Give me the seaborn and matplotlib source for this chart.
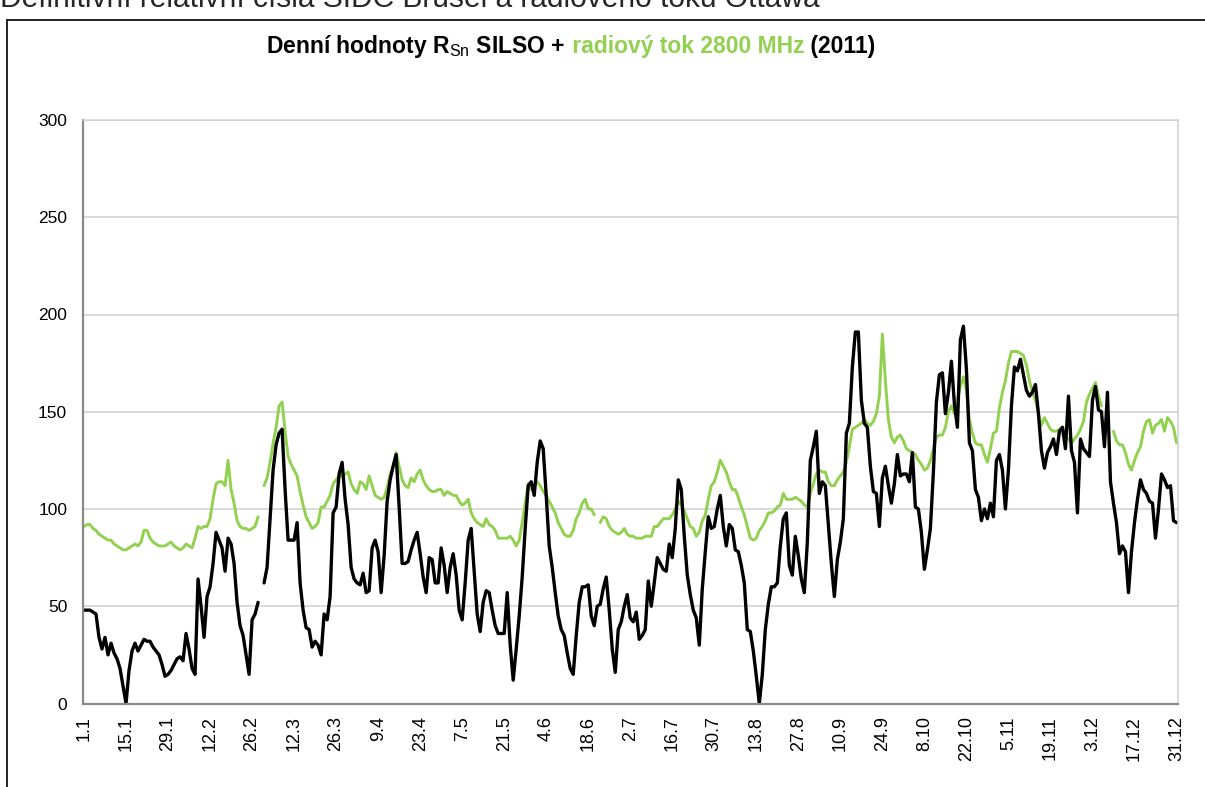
import matplotlib.pyplot as plt
from matplotlib.lines import Line2D
import seaborn as sns
import pandas as pd
import numpy as np

# daily values for 2011, 14 days per row (None = no value)
sunspot_n = [
    48, 48, 48, 47, 46, 34, 28, 34, 25, 31, 26, 23, 18, 9,
    0, 17, 27, 31, 27, 30, 33, 32, 32, 29, 27, 25, 20, 14,
    15, 17, 20, 23, 24, 22, 36, 28, 18, 15, 64, 50, 34, 55,
    60, 72, 88, 84, 80, 68, 85, 82, 72, 52, 40, 35, 25, 15,
    43, 46, 52, None, 62, 70, 95, 120, 133, 139, 141, 110, 84, 84,
    84, 93, 62, 48, 39, 38, 29, 32, 30, 25, 46, 43, 55, 98,
    101, 118, 124, 105, 92, 70, 64, 62, 61, 67, 57, 58, 80, 84,
    78, 57, 76, 104, 115, 122, 128, 101, 72, 72, 73, 79, 84, 88,
    77, 65, 57, 75, 74, 62, 62, 80, 71, 57, 70, 77, 66, 48,
    43, 62, 84, 90, 68, 46, 37, 52, 58, 57, 48, 40, 36, 36,
    36, 57, 30, 12, 28, 45, 65, 90, 112, 114, 107, 124, 135, 131,
    107, 81, 70, 57, 45, 38, 35, 26, 18, 15, 35, 52, 60, 60,
    61, 45, 40, 50, 51, 59, 65, 48, 28, 16, 38, 42, 50, 56,
    44, 42, 47, 33, 35, 38, 63, 50, 62, 75, 72, 69, 68, 82,
    75, 90, 115, 110, 86, 66, 56, 48, 44, 30, 59, 78, 96, 90,
    91, 100, 107, 91, 81, 92, 90, 79, 78, 71, 62, 38, 37, 27,
    14, 0, 15, 38, 51, 60, 60, 62, 81, 95, 98, 71, 66, 86,
    76, 64, 57, 83, 125, 132, 140, 108, 114, 112, 92, 72, 55, 74,
    83, 95, 139, 144, 173, 191, 191, 156, 144, 142, 122, 109, 108, 91,
    116, 122, 112, 103, 113, 128, 117, 118, 118, 114, 129, 101, 100, 88,
    69, 79, 90, 119, 155, 169, 170, 149, 160, 176, 154, 142, 187, 194,
    172, 134, 130, 110, 106, 94, 100, 95, 103, 96, 125, 128, 120, 100,
    120, 153, 173, 171, 177, 169, 161, 158, 160, 164, 149, 130, 121, 129,
    132, 136, 128, 140, 142, 131, 158, 130, 124, 98, 136, 131, 129, 127,
    156, 163, 151, 150, 132, 160, 114, 103, 93, 77, 81, 78, 57, 78,
    93, 105, 115, 110, 108, 104, 103, 85, 100, 118, 115, 111, 112, 94,
    93,
]

flux_2800 = [
    91, 92, 92, 90, 89, 87, 86, 85, 84, 84, 82, 81, 80, 79,
    79, 80, 81, 82, 81, 83, 89, 89, 85, 83, 82, 81, 81, 81,
    82, 83, 81, 80, 79, 80, 82, 81, 80, 85, 91, 90, 91, 91,
    95, 105, 113, 114, 114, 112, 125, 110, 103, 94, 91, 90, 90, 89,
    90, 91, 96, None, 112, 116, 124, 134, 142, 153, 155, 140, 127, 123,
    120, 117, 109, 102, 96, 93, 90, 91, 93, 101, 101, 104, 107, 113,
    115, 117, 117, 118, 119, 113, 110, 108, 114, 113, 110, 117, 112, 107,
    106, 105, 106, 111, 118, 122, 129, 122, 115, 112, 111, 116, 114, 118,
    120, 115, 112, 110, 109, 109, 110, 110, 107, 109, 108, 107, 107, 104,
    102, 103, 105, 98, 95, 93, 92, 91, 95, 92, 91, 89, 85, 85,
    85, 85, 86, 84, 81, 84, 93, 103, 113, 110, 112, 114, 112, 109,
    107, 104, 101, 98, 93, 90, 87, 86, 86, 89, 95, 98, 103, 105,
    100, 100, 97, None, 93, 96, 95, 91, 89, 88, 87, 88, 90, 87,
    86, 86, 85, 85, 85, 86, 86, 86, 91, 91, 93, 95, 95, 95,
    97, 100, 104, 102, 99, 95, 91, 90, 86, 88, 94, 97, 105, 112,
    114, 119, 125, 122, 119, 114, 110, 110, 106, 101, 97, 91, 85, 84,
    85, 89, 91, 94, 98, 98, 99, 101, 102, 108, 105, 105, 105, 106,
    105, 104, 102, 101, 108, 113, 118, 120, 119, 119, 114, 112, 112, 115,
    117, 119, 124, 132, 141, 142, 143, 144, 146, 144, 143, 145, 149, 158,
    190, 166, 146, 137, 134, 137, 138, 135, 131, 130, 129, 128, 125, 123,
    120, 121, 125, 131, 137, 138, 138, 142, 150, 153, 149, 156, 163, 168,
    161, 146, 139, 134, 133, 133, 128, 124, 131, 139, 140, 152, 160, 166,
    175, 181, 181, 181, 180, 179, 174, 166, 160, 156, 149, 143, 147, 144,
    141, 140, 140, 141, 142, 137, 136, 134, 136, 138, 141, 145, 155, 159,
    162, 165, 158, 153, None, None, None, 140, 135, 133, 133, 129, 123, 120,
    125, 129, 132, 140, 145, 146, 139, 143, 144, 146, 140, 147, 145, 142,
    134,
]

year = 2011
header = "Definitivní relativní čísla SIDC Brusel a radiového toku Ottawa"
title_parts = ["Denní hodnoty R$_{\\mathrm{Sn}}$ SILSO +", " radiový tok 2800 MHz", " (2011)"]

green = "#92D050"

sns.set_style("white")
plt.rcParams["font.family"] = ["Liberation Sans", "DejaVu Sans"]
plt.rcParams["mathtext.fontset"] = "custom"
plt.rcParams["mathtext.rm"] = "Liberation Sans"

days = pd.date_range(f"{year}-01-01", f"{year}-12-31", freq="D")
df = pd.DataFrame({
    "day": np.arange(len(days)),
    "sn": pd.Series(sunspot_n, dtype="float"),
    "flux": pd.Series(flux_2800, dtype="float"),
})
# separate line pieces at missing days so the gaps stay open
df["seg_sn"] = df["sn"].isna().cumsum()
df["seg_flux"] = df["flux"].isna().cumsum()

W, H = 1205, 787
fig = plt.figure(figsize=(W / 100, H / 100), dpi=100)
ax = fig.add_axes([82.5 / W, 83.5 / H, (1178 - 82.5) / W, (667 - 83.5) / H])

sns.lineplot(data=df, x="day", y="flux", units="seg_flux", estimator=None,
             color=green, lw=2.1, ax=ax)
sns.lineplot(data=df, x="day", y="sn", units="seg_sn", estimator=None,
             color="black", lw=2.4, ax=ax)

ax.set_xlim(-0.5, len(days) - 0.5)
ax.set_ylim(0, 300)
ax.set_yticks(range(0, 301, 50))
tick_days = list(range(0, len(days), 14))
ax.set_xticks(tick_days)
ax.set_xticklabels([f"{days[i].day}.{days[i].month}" for i in tick_days], rotation=90)
ax.set_xlabel("")
ax.set_ylabel("")
ax.tick_params(axis="both", colors="#808080", labelcolor="black",
               length=5, width=1, direction="out")
ax.tick_params(axis="y", labelsize=12.5, pad=6)
ax.tick_params(axis="x", labelsize=13, pad=4)

ax.yaxis.grid(True, color="#CFCFCF", lw=1.1)
ax.set_axisbelow(True)
for side in ["left", "bottom"]:
    ax.spines[side].set_color("#8A8A8A")
    ax.spines[side].set_linewidth(1.6)
for side in ["top", "right"]:
    ax.spines[side].set_color("#CFCFCF")
    ax.spines[side].set_linewidth(1.1)

# outer chart frame (left and top edges only are inside the picture)
fig.add_artist(Line2D([7.5 / W, 7.5 / W], [0, 1 - 19.5 / H], color="black", lw=1.2))
fig.add_artist(Line2D([7.5 / W, 1], [1 - 19.5 / H, 1 - 19.5 / H], color="black", lw=1.2))

# cut-off heading above the frame
fig.text(0, 1 - 7 / H, header, fontsize=21.5, ha="left", va="baseline")

# multi-coloured title, centred
renderer = fig.canvas.get_renderer()
colors = ["black", green, "black"]
pieces = [fig.text(0, 1 - 47 / H, t, fontsize=16.5, fontweight="bold", color=c,
                   ha="left", va="center") for t, c in zip(title_parts, colors)]
widths = [p.get_window_extent(renderer).width for p in pieces]
x = 571 - sum(widths) / 2
for p, w in zip(pieces, widths):
    p.set_x(x / W)
    x += w

fig.savefig("out.png", dpi=100)
